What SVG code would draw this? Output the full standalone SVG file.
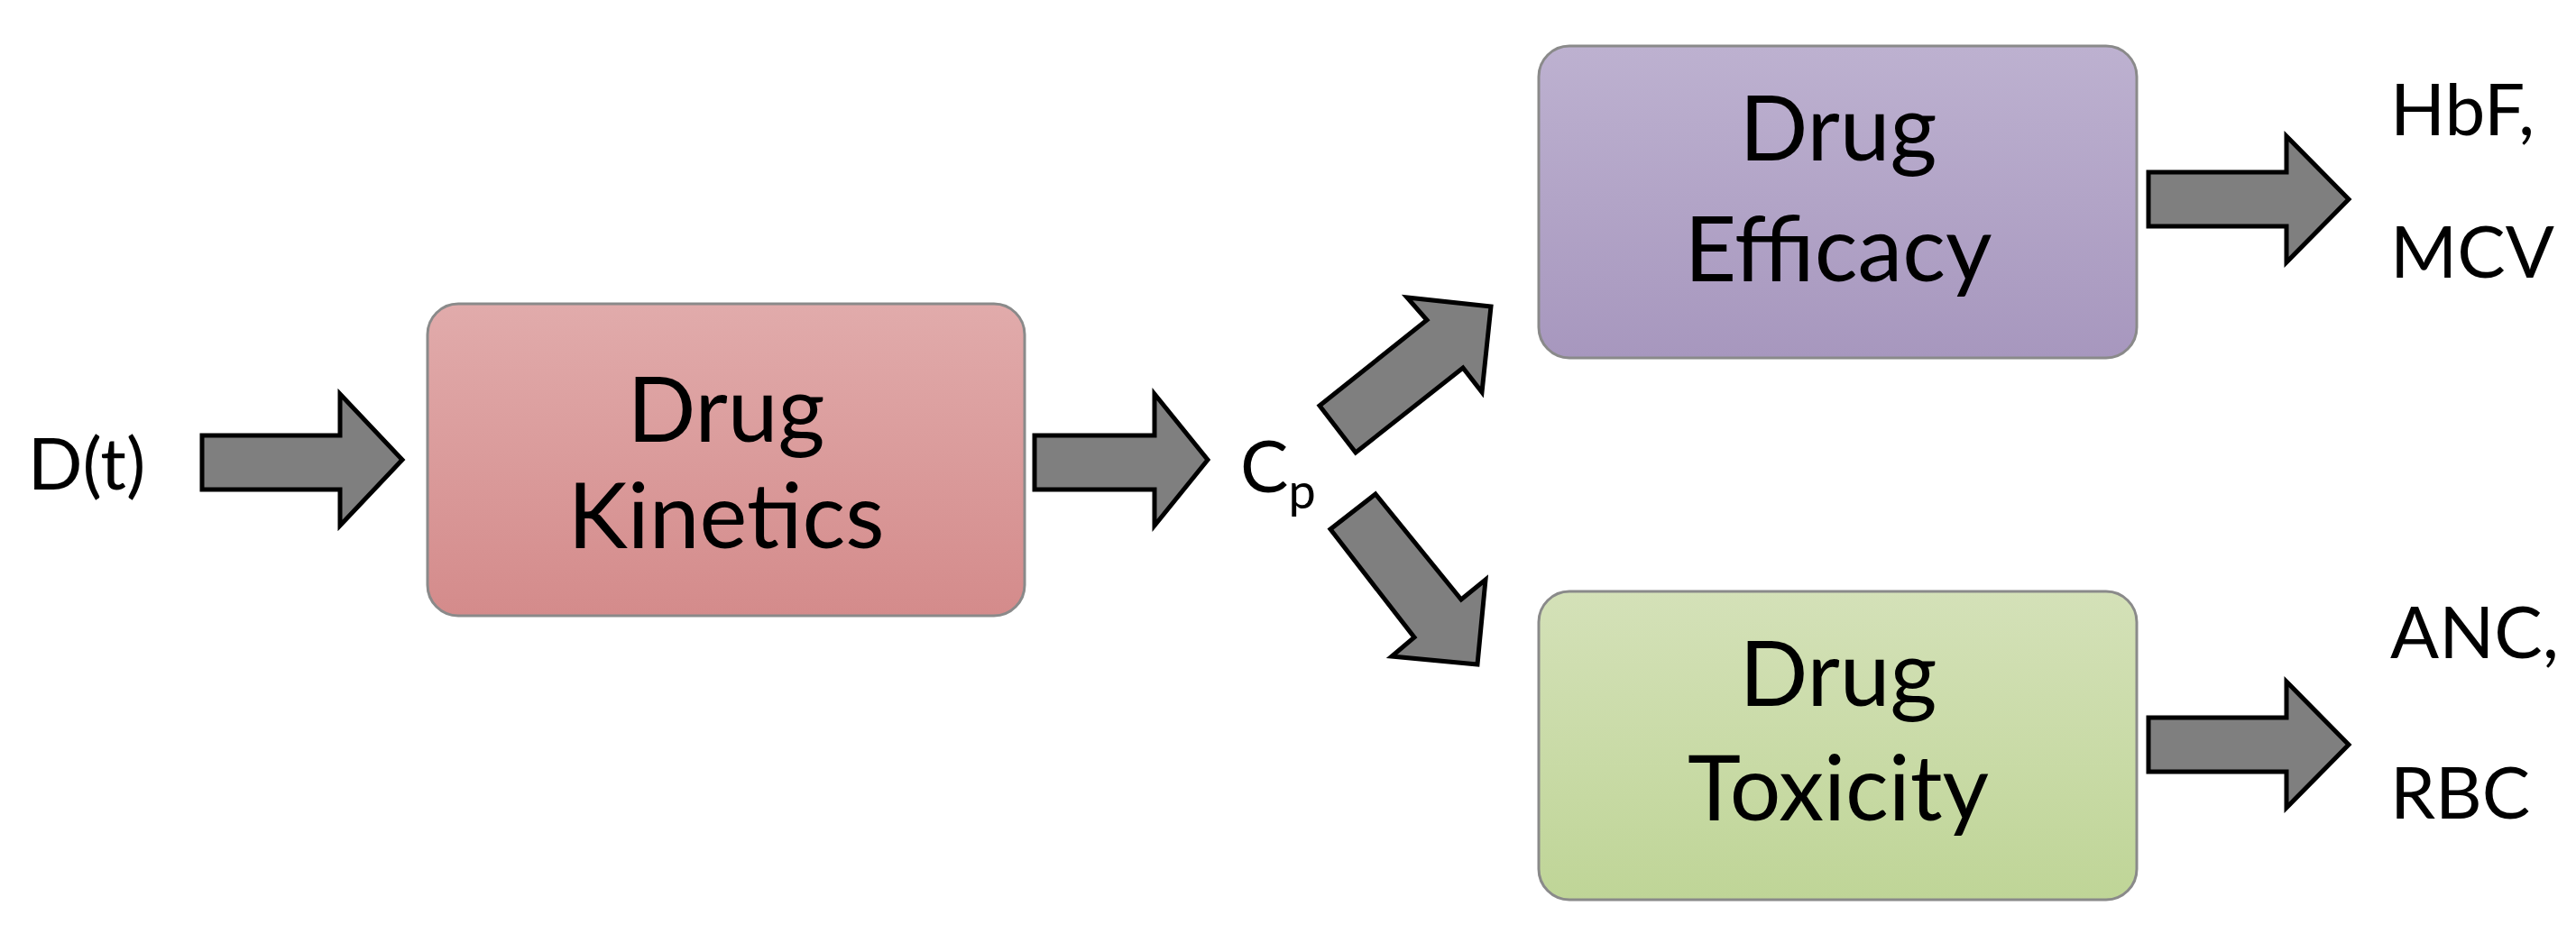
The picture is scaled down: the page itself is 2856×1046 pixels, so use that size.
<svg xmlns="http://www.w3.org/2000/svg" width="2856" height="1046" viewBox="0 0 2856 1046">
<defs>
<linearGradient id="gk" x1="0" y1="0" x2="0" y2="1"><stop offset="0" stop-color="#e1abab"/><stop offset="1" stop-color="#d48b8b"/></linearGradient>
<linearGradient id="ge" x1="0" y1="0" x2="0" y2="1"><stop offset="0" stop-color="#bdb1d0"/><stop offset="1" stop-color="#a797be"/></linearGradient>
<linearGradient id="gt" x1="0" y1="0" x2="0" y2="1"><stop offset="0" stop-color="#d4e1b8"/><stop offset="1" stop-color="#bfd597"/></linearGradient>
<style>
.box{stroke:#8a8a8a;stroke-width:3}
.t{font-family:Lato,"Open Sans",sans-serif;fill:#000;text-anchor:middle}
.big{font-size:100px}
.sm{font-size:80px}
.arr{fill:#7f7f7f;stroke:#000;stroke-width:5;stroke-linejoin:miter}
</style>
</defs>
<g id="kinetics"><rect class="box" x="474" y="337" width="662" height="346" rx="34" fill="url(#gk)"/>
<text class="t big" x="805" y="490">Drug</text><text class="t big" x="805" y="608">Kinetics</text></g>
<g id="efficacy"><rect class="box" x="1706" y="51" width="663" height="346" rx="34" fill="url(#ge)"/>
<text class="t big" x="2038" y="178">Drug</text><text class="t big" x="2038" y="312">Efficacy</text></g>
<g id="toxicity"><rect class="box" x="1706" y="656" width="663" height="342" rx="34" fill="url(#gt)"/>
<text class="t big" x="2038" y="783">Drug</text><text class="t big" x="2038" y="910">Toxicity</text></g>
<g id="dt"><text class="t sm" x="96" y="543">D(t)</text></g>
<g id="cp"><text class="t sm" x="1375" y="546" style="text-anchor:start">C<tspan font-size="54" dy="18">p</tspan></text></g>
<g id="out1"><text class="t sm" x="2650" y="150" style="text-anchor:start">HbF,</text><text class="t sm" x="2650" y="308" style="text-anchor:start">MCV</text></g>
<g id="out2"><text class="t sm" x="2650" y="730" style="text-anchor:start">ANC,</text><text class="t sm" x="2650" y="908" style="text-anchor:start">RBC</text></g>
<g id="connectors">
<polygon class="arr" points="224,483 377,483 377,437 446,510 377,583 377,543 224,543"/>
<polygon class="arr" points="1147,483 1280,483 1280,437 1339,510 1280,583 1280,543 1147,543"/>
<polygon class="arr" points="2382,191 2535,191 2535,151 2604,221 2535,291 2535,251 2382,251"/>
<polygon class="arr" points="2382,796 2535,796 2535,756 2604,826 2535,896 2535,856 2382,856"/>
<polygon class="arr" points="1463,450 1582,355 1560,330 1653,340 1643,435 1622,408 1503,502"/>
<polygon class="arr" points="1525,548 1620,665 1647,643 1638,737 1543,728 1568,707 1475,587"/>
</g>
</svg>
